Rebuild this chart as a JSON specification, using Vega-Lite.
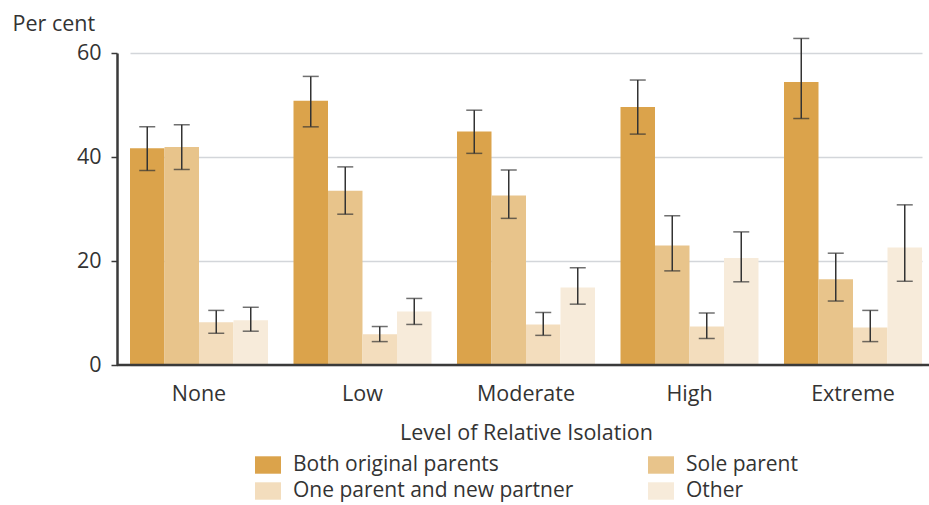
{
  "$schema": "https://vega.github.io/schema/vega-lite/v6.json",
  "width": 812,
  "height": 312,
  "autosize": {"type": "none"},
  "padding": {"left": 117, "top": 53, "right": 0, "bottom": 140},
  "background": "white",
  "config": {
    "font": "Open Sans",
    "view": {"stroke": null},
    "axis": {"labelColor": "#333333", "titleColor": "#333333", "labelFont": "Open Sans", "titleFont": "Open Sans"},
    "legend": {"labelFont": "Open Sans"}
  },
  "datasets": {
    "bars": [
      {"level": "None", "series": "Both original parents", "value": 41.7, "lo": 37.4, "hi": 45.8},
      {"level": "None", "series": "Sole parent", "value": 41.9, "lo": 37.6, "hi": 46.2},
      {"level": "None", "series": "One parent and new partner", "value": 8.2, "lo": 6.1, "hi": 10.5},
      {"level": "None", "series": "Other", "value": 8.6, "lo": 6.5, "hi": 11.1},
      {"level": "Low", "series": "Both original parents", "value": 50.8, "lo": 45.8, "hi": 55.5},
      {"level": "Low", "series": "Sole parent", "value": 33.5, "lo": 29.0, "hi": 38.1},
      {"level": "Low", "series": "One parent and new partner", "value": 5.9, "lo": 4.5, "hi": 7.4},
      {"level": "Low", "series": "Other", "value": 10.3, "lo": 7.8, "hi": 12.8},
      {"level": "Moderate", "series": "Both original parents", "value": 44.9, "lo": 40.7, "hi": 49.0},
      {"level": "Moderate", "series": "Sole parent", "value": 32.6, "lo": 28.2, "hi": 37.5},
      {"level": "Moderate", "series": "One parent and new partner", "value": 7.8, "lo": 5.7, "hi": 10.1},
      {"level": "Moderate", "series": "Other", "value": 14.9, "lo": 11.7, "hi": 18.7},
      {"level": "High", "series": "Both original parents", "value": 49.6, "lo": 44.4, "hi": 54.8},
      {"level": "High", "series": "Sole parent", "value": 23.0, "lo": 18.1, "hi": 28.7},
      {"level": "High", "series": "One parent and new partner", "value": 7.4, "lo": 5.1, "hi": 10.0},
      {"level": "High", "series": "Other", "value": 20.6, "lo": 16.0, "hi": 25.6},
      {"level": "Extreme", "series": "Both original parents", "value": 54.4, "lo": 47.4, "hi": 62.8},
      {"level": "Extreme", "series": "Sole parent", "value": 16.5, "lo": 12.3, "hi": 21.5},
      {"level": "Extreme", "series": "One parent and new partner", "value": 7.2, "lo": 4.5, "hi": 10.5},
      {"level": "Extreme", "series": "Other", "value": 22.6, "lo": 16.1, "hi": 30.8}
    ],
    "baseline": [{"y": 0}]
  },
  "data": {"name": "bars"},
  "layer": [
    {
      "mark": {"type": "bar"},
      "encoding": {
        "x": {
          "field": "level", "type": "nominal",
          "sort": ["None", "Low", "Moderate", "High", "Extreme"],
          "scale": {"paddingInner": 0.156, "paddingOuter": 0, "range": [13, 805]},
          "axis": {
            "title": "Level of Relative Isolation", "labelAngle": 0, "ticks": false, "domain": false,
            "labelFontSize": 21.5, "labelPadding": 18, "titleFontSize": 21.5, "titlePadding": 18,
            "titleFontWeight": "normal"
          }
        },
        "xOffset": {
          "field": "series", "type": "nominal",
          "scale": {"domain": ["Both original parents", "Sole parent", "One parent and new partner", "Other"], "paddingInner": 0, "paddingOuter": 0}
        },
        "y": {
          "field": "value", "type": "quantitative",
          "scale": {"domain": [0, 60], "nice": false},
          "axis": {
            "values": [0, 20, 40, 60], "title": "Per cent", "titleAngle": 0,
            "titleAlign": "left", "titleBaseline": "alphabetic", "titleX": -105, "titleY": -23,
            "titleFontSize": 21.5, "titleFontWeight": "normal",
            "labelFontSize": 21.5, "labelPadding": 10, "tickSize": 6, "tickColor": "#3a3a3a", "tickWidth": 1.5,
            "domainColor": "#3a3a3a", "domainWidth": 2.5,
            "grid": true, "gridColor": "#d3d6da", "gridWidth": 1.5
          }
        },
        "color": {
          "field": "series", "type": "nominal",
          "scale": {
            "domain": ["Both original parents", "Sole parent", "One parent and new partner", "Other"],
            "range": ["#DBA34B", "#E8C48B", "#F3DDBD", "#F7EBDA"]
          },
          "legend": {
            "title": null, "orient": "none", "legendX": 138, "legendY": 399, "direction": "horizontal",
            "columns": 2, "symbolType": "M-1,-0.67L1,-0.67L1,0.67L-1,0.67Z", "symbolSize": 676, "symbolStrokeWidth": 0,
            "labelFontSize": 21, "labelColor": "#333333", "labelOffset": 12,
            "rowPadding": 3, "columnPadding": 74, "labelLimit": 400
          }
        }
      }
    },
    {
      "mark": {"type": "rule", "color": "#333333", "strokeWidth": 1.5},
      "encoding": {
        "x": {"field": "level", "type": "nominal", "sort": ["None", "Low", "Moderate", "High", "Extreme"]},
        "xOffset": {"field": "series", "type": "nominal"},
        "y": {"field": "lo", "type": "quantitative"},
        "y2": {"field": "hi"}
      }
    },
    {
      "mark": {"type": "tick", "color": "#333333", "thickness": 1.5, "size": 16, "orient": "horizontal"},
      "encoding": {
        "x": {"field": "level", "type": "nominal", "sort": ["None", "Low", "Moderate", "High", "Extreme"]},
        "xOffset": {"field": "series", "type": "nominal"},
        "y": {"field": "lo", "type": "quantitative"}
      }
    },
    {
      "mark": {"type": "tick", "color": "#333333", "thickness": 1.5, "size": 16, "orient": "horizontal"},
      "encoding": {
        "x": {"field": "level", "type": "nominal", "sort": ["None", "Low", "Moderate", "High", "Extreme"]},
        "xOffset": {"field": "series", "type": "nominal"},
        "y": {"field": "hi", "type": "quantitative"}
      }
    },
    {
      "data": {"name": "baseline"},
      "mark": {"type": "rule", "color": "#3a3a3a", "strokeWidth": 2.5},
      "encoding": {"y": {"field": "y", "type": "quantitative"}}
    }
  ]
}
